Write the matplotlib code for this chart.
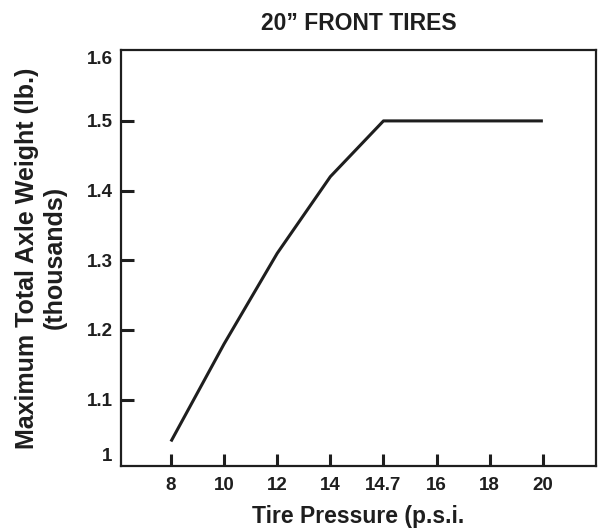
import matplotlib
matplotlib.use("Agg")
import matplotlib.pyplot as plt

plt.rcParams['font.family'] = ['Liberation Sans', 'DejaVu Sans']
plt.rcParams['font.weight'] = 'bold'

# tire pressure (p.s.i.) vs maximum axle weight (thousands of lb.)
pressure_labels = ["8", "10", "12", "14", "14.7", "16", "18", "20"]
axle_weight = [1.04, 1.18, 1.31, 1.42, 1.50, 1.50, 1.50, 1.50]
weight_ticks = [1.1, 1.2, 1.3, 1.4, 1.5]
weight_tick_labels = ["1.1", "1.2", "1.3", "1.4", "1.5"]

ink = "#1e1e1e"
tick_size = 13.5

fig = plt.figure(figsize=(5.99, 5.30), dpi=100)
ax = fig.add_axes([0.202, 0.121, 0.793, 0.785])

x = list(range(len(pressure_labels)))
ax.plot(x, axle_weight, color=ink, linewidth=2.2, solid_capstyle='butt')

ax.set_xlim(-0.94, 8.0)
ax.set_ylim(1.005, 1.602)

ax.set_xticks(x)
ax.set_xticklabels(pressure_labels)
ax.set_yticks(weight_ticks)
ax.set_yticklabels(weight_tick_labels)

ax.tick_params(axis='both', direction='in', length=9, width=2.2, color=ink,
               labelsize=tick_size, labelcolor=ink)
ax.tick_params(axis='x', pad=8)
ax.tick_params(axis='y', pad=6)
for lab in ax.get_xticklabels() + ax.get_yticklabels():
    lab.set_fontweight('bold')

# end labels of the weight axis sit inside the frame, without tick marks
ax.text(-0.018, 0.022, "1", transform=ax.transAxes, ha='right', va='center',
        fontsize=tick_size, fontweight='bold', color=ink)
ax.text(-0.018, 0.976, "1.6", transform=ax.transAxes, ha='right', va='center',
        fontsize=tick_size, fontweight='bold', color=ink)

for side in ax.spines.values():
    side.set_linewidth(1.6)
    side.set_color(ink)

ax.set_title("20\u201d FRONT TIRES", fontsize=16.5, fontweight='bold', color=ink, pad=14)
ax.set_xlabel("Tire Pressure (p.s.i.", fontsize=16.5, fontweight='bold', color=ink,
              labelpad=8)
ax.set_ylabel("Maximum Total Axle Weight (lb.)\n(thousands)", fontsize=18,
              fontweight='bold', color=ink, labelpad=14, linespacing=1.2)

fig.savefig("out.png", dpi=100)
